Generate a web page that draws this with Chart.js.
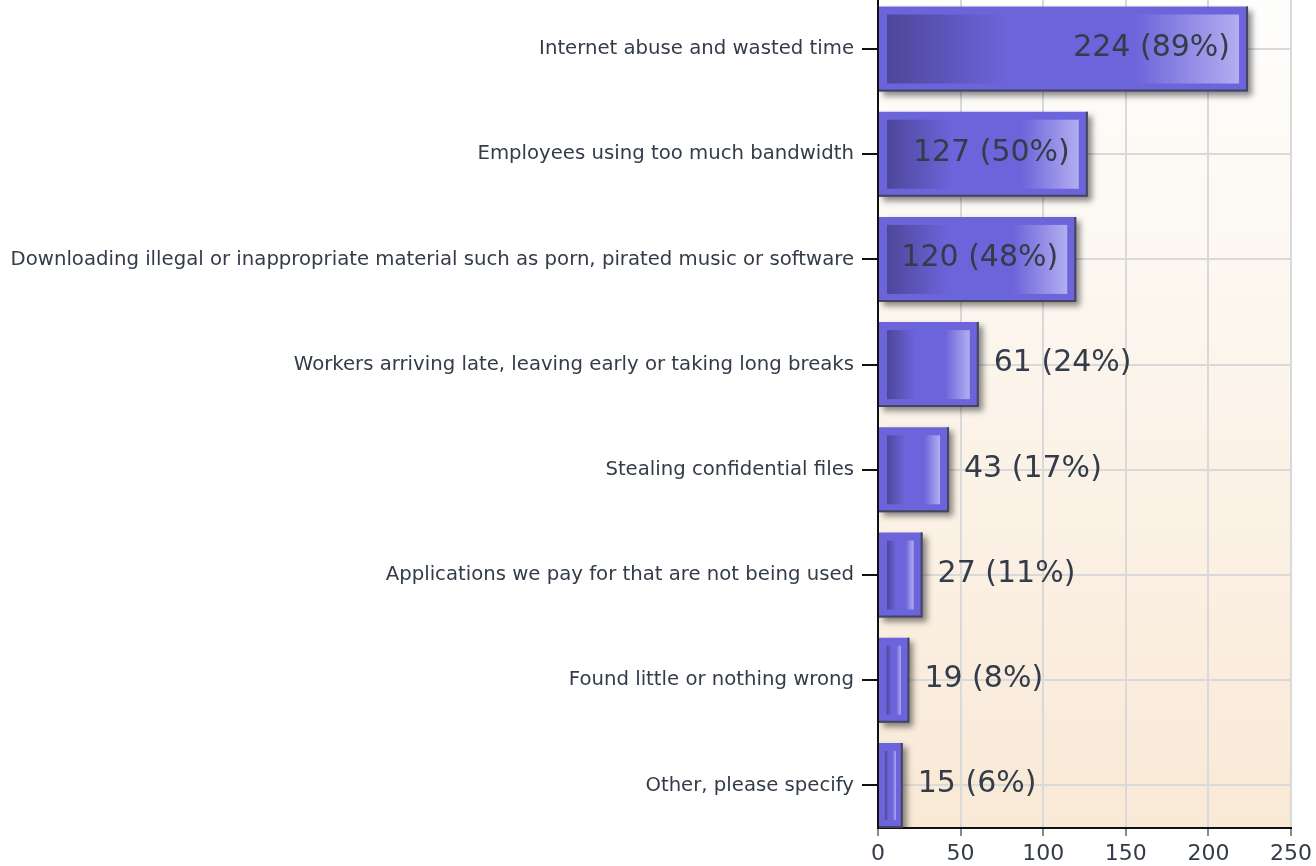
<!DOCTYPE html>
<html>
<head>
<meta charset="utf-8">
<script src="https://cdn.jsdelivr.net/npm/chart.js@4/dist/chart.umd.min.js"></script>
<style>
html,body{margin:0;padding:0;background:#fff;overflow:hidden}
#wrap{width:1316px;height:866px;position:relative}
</style>
</head>
<body>
<div id="wrap"><canvas id="c" width="1316" height="866"></canvas></div>
<script>
const categories = [
  "Internet abuse and wasted time",
  "Employees using too much bandwidth",
  "Downloading illegal or inappropriate material such as porn, pirated music or software",
  "Workers arriving late, leaving early or taking long breaks",
  "Stealing confidential files",
  "Applications we pay for that are not being used",
  "Found little or nothing wrong",
  "Other, please specify"
];
const counts = [224, 127, 120, 61, 43, 27, 19, 15];
const percents = [89, 50, 48, 24, 17, 11, 8, 6];
const xTickValues = [0, 50, 100, 150, 200, 250];

const FONT = "'DejaVu Sans', Verdana, sans-serif";
const TEXT = '#333c48';

const bgPlugin = {
  id: 'bg',
  beforeDraw(chart) {
    const {ctx, chartArea: a} = chart;
    const g = ctx.createLinearGradient(0, a.top, 0, a.bottom);
    g.addColorStop(0, '#fefefd');
    g.addColorStop(1, '#f9e9d6');
    ctx.save();
    ctx.fillStyle = g;
    ctx.fillRect(a.left, a.top, a.right - a.left, a.bottom - a.top);
    ctx.restore();
  }
};

const barFx = {
  id: 'barFx',
  beforeDatasetsDraw(chart) {
    const ctx = chart.ctx;
    ctx.save();
    ctx.shadowColor = 'rgba(0,0,0,0.45)';
    ctx.shadowBlur = 6;
    ctx.shadowOffsetX = 4;
    ctx.shadowOffsetY = 4;
  },
  afterDatasetsDraw(chart) {
    const ctx = chart.ctx;
    ctx.restore();
    const meta = chart.getDatasetMeta(0);
    meta.data.forEach((bar, i) => {
      const p = bar.getProps(['x', 'y', 'base', 'height'], true);
      const left = Math.min(p.x, p.base), right = Math.max(p.x, p.base);
      const top = p.y - p.height / 2, bottom = p.y + p.height / 2;
      const w = right - left;
      ctx.save();
      ctx.strokeStyle = '#44445a';
      ctx.lineWidth = 2;
      ctx.beginPath();
      ctx.moveTo(right - 1, top);
      ctx.lineTo(right - 1, bottom - 1);
      ctx.lineTo(left, bottom - 1);
      ctx.stroke();
      const ins = Math.min(8, w * 0.25);
      const il = left + ins, ir = right - ins - 1, it = top + 8, ib = bottom - 8;
      const g = ctx.createLinearGradient(il, 0, ir, 0);
      g.addColorStop(0, '#4d479a');
      g.addColorStop(0.34, '#6c64da');
      g.addColorStop(0.70, '#6c64da');
      g.addColorStop(1, '#b2aef0');
      ctx.fillStyle = g;
      ctx.fillRect(il, it, ir - il, ib - it);
      // value label
      const txt = counts[i] + ' (' + percents[i] + '%)';
      ctx.font = '30px ' + FONT;
      ctx.fillStyle = TEXT;
      ctx.textBaseline = 'middle';
      const tw = ctx.measureText(txt).width;
      if (tw + 36 < w) {
        ctx.textAlign = 'right';
        ctx.fillText(txt, right - 18, p.y - 1);
      } else {
        ctx.textAlign = 'left';
        ctx.fillText(txt, right + 15, p.y - 1);
      }
      ctx.restore();
    });
  }
};

new Chart(document.getElementById('c'), {
  type: 'bar',
  data: {
    labels: categories,
    datasets: [{
      data: counts,
      backgroundColor: '#6c64da',
      borderWidth: 0,
      categoryPercentage: 1,
      barPercentage: 0.808
    }]
  },
  plugins: [bgPlugin, barFx],
  options: {
    indexAxis: 'y',
    responsive: false,
    animation: false,
    devicePixelRatio: 1,
    layout: {padding: {left: 0, right: 25, top: 0, bottom: 0}},
    plugins: {legend: {display: false}, tooltip: {enabled: false}},
    scales: {
      x: {
        type: 'linear',
        min: 0,
        max: 250,
        afterBuildTicks(s) { s.ticks = xTickValues.map(v => ({value: v})); },
        afterFit(s) { s.height = 38; s.paddingLeft = 0; s.paddingRight = 0; },
        grid: {color: '#d9d9d9', lineWidth: 2, tickColor: '#8a8a8a', tickLength: 8, tickWidth: 2},
        border: {color: '#111', width: 2},
        ticks: {font: {family: FONT, size: 22}, color: TEXT, padding: 5, maxRotation: 0, autoSkip: false}
      },
      y: {
        type: 'category',
        offset: true,
        afterBuildTicks(s) { s._startValue = -0.466; s._valueRange = 7.871; },
        afterFit(s) { s.width = 878; s.paddingTop = 0; s.paddingBottom = 0; },
        grid: {color: '#d9d9d9', lineWidth: 2, offset: false, tickColor: '#111', tickLength: 16, tickWidth: 2},
        border: {color: '#111', width: 2, z: 1},
        ticks: {font: {family: FONT, size: 19.7}, color: TEXT, padding: 8, autoSkip: false}
      }
    }
  }
});
</script>
</body>
</html>
